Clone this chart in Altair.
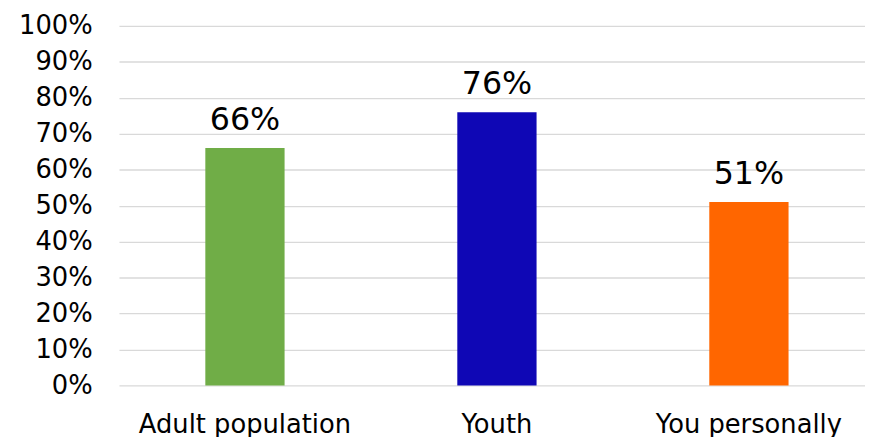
import altair as alt
import pandas as pd

categories = ["Adult population", "Youth", "You personally"]
values = [0.66, 0.76, 0.51]
colors = ["#70AD47", "#0F07B5", "#FF6600"]
labels = ["66%", "76%", "51%"]
ticks = [0.0, 0.1, 0.2, 0.3, 0.4, 0.5, 0.6, 0.7, 0.8, 0.9, 1.0]

df = pd.DataFrame({"cat": categories, "val": values, "label": labels})

xscale = alt.Scale(domain=categories, range=[0, 763], paddingInner=0, paddingOuter=0)
xaxis = alt.Axis(labelAngle=0, labelFontSize=26, labelFont="DejaVu Sans",
                 labelColor="#000000", ticks=False, tickSize=0, domain=False, grid=False,
                 labelPadding=26, labelBaseline="top", labelLimit=0, labelOverlap=False)
yscale = alt.Scale(domain=[0, 1], nice=False, zero=True)
yaxis = alt.Axis(format=".0%", values=ticks, tickCount=11,
                 labelFontSize=26, labelFont="DejaVu Sans", labelColor="#000000",
                 ticks=False, tickSize=0, domain=False, labelPadding=27,
                 labelOverlap=False, grid=True,
                 gridColor="#D9D9D9", gridWidth=1.3)

x = alt.X("cat:N", sort=categories, title=None, scale=xscale, axis=xaxis)
y = alt.Y("val:Q", title=None, scale=yscale, axis=yaxis)

bars = alt.Chart(df).mark_bar(size=80).encode(
    x=x, y=y,
    color=alt.Color("cat:N", scale=alt.Scale(domain=categories, range=colors), legend=None),
)
text = alt.Chart(df).mark_text(fontSize=32, font="DejaVu Sans", color="#000000",
                               baseline="alphabetic", dy=-18).encode(
    x=x, y=y, text="label:N")

chart = alt.layer(bars, text).properties(
    width=750, height=363,
    background="white",
    autosize=alt.AutoSizeParams(type="none"),
    padding={"left": 112, "top": 16, "right": 3, "bottom": 50},
).configure_view(stroke=None, strokeWidth=0)

chart.save("out.html", embed_options={"renderer": "svg", "actions": False})
